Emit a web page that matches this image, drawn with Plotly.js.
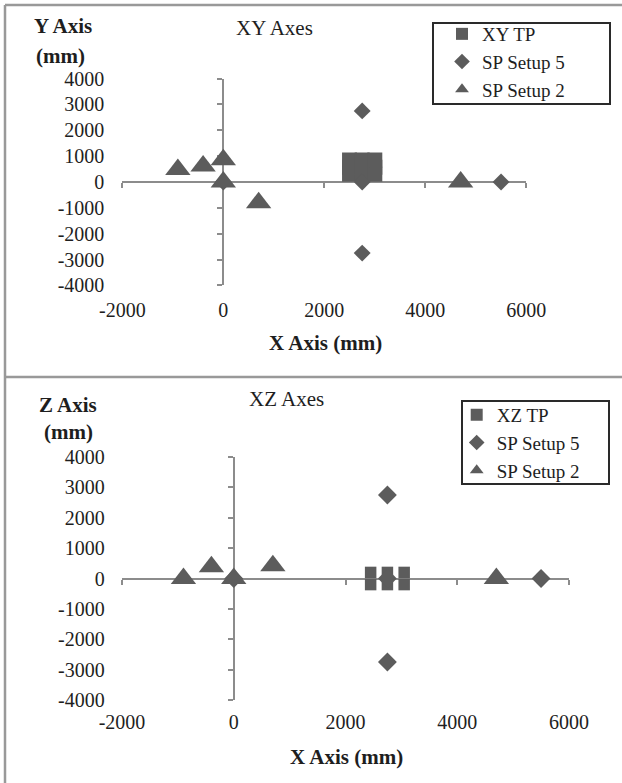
<!DOCTYPE html>
<html>
<head>
<meta charset="utf-8">
<script src="https://cdn.plot.ly/plotly-3.0.1.min.js"></script>
<style>html,body{margin:0;padding:0;background:#fff;}#chart{width:622px;height:783px;}</style>
</head>
<body>
<div id="chart"></div>
<script>
// ---- Data ----
// XY panel
const xyTP_x = [2500, 2750, 3000, 2500, 2750, 3000, 2500, 2750, 3000];
const xyTP_y = [300, 300, 300, 575, 575, 575, 850, 850, 850];
const xySP5_x = [0, 2750, 2750, 2750, 5500];
const xySP5_y = [0, 2750, 0, -2750, 0];
const xySP2_x = [-900, -400, 0, 0, 700, 4700];
const xySP2_y = [480, 620, 860, 0, -800, 0];
// XZ panel
const xzTP_x = [2450, 2750, 3050, 2450, 2750, 3050];
const xzTP_z = [200, 200, 200, -200, -200, -200];
const xzSP5_x = [0, 2750, 2750, 2750, 5500];
const xzSP5_z = [0, 2750, 0, -2750, 0];
const xzSP2_x = [-900, -400, 0, 700, 4700];
const xzSP2_z = [0, 390, 0, 420, 0];
// Ticks
const xTickVals = [-2000, 0, 2000, 4000, 6000];
const xTickText = ['-2000', '0', '2000', '4000', '6000'];
const yTickVals = [-4000, -3000, -2000, -1000, 0, 1000, 2000, 3000, 4000];
const yTickText = ['-4000', '-3000', '-2000', '-1000', '0', '1000', '2000', '3000', '4000'];
// Series names
const seriesTop = ['XY TP', 'SP Setup 5', 'SP Setup 2'];
const seriesBot = ['XZ TP', 'SP Setup 5', 'SP Setup 2'];

// ---- Styling ----
const W = 622, H = 783;
const px = v => v / W;
const py = v => 1 - v / H;
const FONT = '"Liberation Serif", "Times New Roman", serif';
const MK = '#5c5c5c';
const AX = '#8c8c8c';
const TXT = '#1e1e1e';

const traces = [
  {x: xyTP_x, y: xyTP_y, name: seriesTop[0], mode: 'markers', type: 'scatter', xaxis: 'x', yaxis: 'y', legend: 'legend',
   marker: {symbol: 'square', size: 15, color: MK}},
  {x: xySP5_x, y: xySP5_y, name: seriesTop[1], mode: 'markers', type: 'scatter', xaxis: 'x', yaxis: 'y', legend: 'legend',
   marker: {symbol: 'diamond', size: 13, color: MK}},
  {x: xySP2_x, y: xySP2_y, name: seriesTop[2], mode: 'markers', type: 'scatter', xaxis: 'x', yaxis: 'y', legend: 'legend',
   marker: {symbol: 'triangle-up', size: 22, color: MK}},
  {x: xzTP_x, y: xzTP_z, name: seriesBot[0], mode: 'markers', type: 'scatter', xaxis: 'x2', yaxis: 'y2', legend: 'legend2',
   marker: {symbol: 'square', size: 11.5, color: MK}},
  {x: xzSP5_x, y: xzSP5_z, name: seriesBot[1], mode: 'markers', type: 'scatter', xaxis: 'x2', yaxis: 'y2', legend: 'legend2',
   marker: {symbol: 'diamond', size: 14.5, color: MK}},
  {x: xzSP2_x, y: xzSP2_z, name: seriesBot[2], mode: 'markers', type: 'scatter', xaxis: 'x2', yaxis: 'y2', legend: 'legend2',
   marker: {symbol: 'triangle-up', size: 22, color: MK}}
];

function xAxis(domain, pos, standoff) {
  return {domain: domain, range: [-2000, 6000], anchor: 'free', position: pos,
    tickvals: xTickVals, ticktext: xTickText, ticks: 'outside', ticklen: 5, tickwidth: 2, tickcolor: AX,
    showline: true, linecolor: AX, linewidth: 2, showgrid: false, zeroline: false, layer: 'below traces',
    ticklabelstandoff: standoff, tickfont: {family: FONT, size: 20, color: TXT}, fixedrange: true};
}
function yAxis(domain, pos, standoff) {
  return {domain: domain, range: [-4000, 4000], anchor: 'free', position: pos,
    tickvals: yTickVals, ticktext: yTickText, ticks: 'outside', ticklen: 5, tickwidth: 2, tickcolor: AX,
    showline: true, linecolor: AX, linewidth: 2, showgrid: false, zeroline: false, layer: 'below traces',
    ticklabelstandoff: standoff, tickfont: {family: FONT, size: 20, color: TXT}, fixedrange: true};
}

// pixel geometry of each panel
const topX = [122.3, 526.3], topY = [78.6, 285.4];
const botX = [122, 569], botY = [457, 700];
const topXd = [px(topX[0]), px(topX[1])], topYd = [py(topY[1]), py(topY[0])];
const botXd = [px(botX[0]), px(botX[1])], botYd = [py(botY[1]), py(botY[0])];
const topYpos = (topYd[0] + topYd[1]) / 2, topXpos = topXd[0] + 0.25 * (topXd[1] - topXd[0]);
const botYpos = (botYd[0] + botYd[1]) / 2, botXpos = botXd[0] + 0.25 * (botXd[1] - botXd[0]);

function ann(text, x, y, size, bold) {
  return {text: bold ? '<b>' + text + '</b>' : text, x: px(x), y: py(y), xref: 'paper', yref: 'paper',
    xanchor: 'center', yanchor: 'middle', showarrow: false, font: {family: FONT, size: size, color: TXT}};
}
function line(x0, y0, x1, y1, color, w) {
  return {type: 'line', xref: 'paper', yref: 'paper', x0: px(x0), y0: py(y0), x1: px(x1), y1: py(y1),
    line: {color: color, width: w}};
}
function rect(x0, y0, x1, y1) {
  return {type: 'rect', xref: 'paper', yref: 'paper', x0: px(x0), y0: py(y0), x1: px(x1), y1: py(y1),
    line: {color: '#2a2a2a', width: 2}, fillcolor: 'rgba(0,0,0,0)'};
}

const legendBase = {xanchor: 'left', yanchor: 'top', bgcolor: 'rgba(0,0,0,0)', borderwidth: 0,
  itemsizing: 'constant', font: {family: FONT, size: 19, color: TXT}, tracegroupgap: 0};

const layout = {
  width: W, height: H, margin: {l: 0, r: 0, t: 0, b: 0},
  paper_bgcolor: '#fff', plot_bgcolor: 'rgba(0,0,0,0)',
  showlegend: true,
  xaxis: xAxis(topXd, topYpos, 105),
  yaxis: yAxis(topYd, topXpos, 109),
  xaxis2: xAxis(botXd, botYpos, 120),
  yaxis2: yAxis(botYd, botXpos, 119),
  legend: Object.assign({}, legendBase, {x: px(442), y: py(15)}),
  legend2: Object.assign({}, legendBase, {x: px(456.7), y: py(396)}),
  annotations: [
    ann('XY Axes', 274, 28, 21, false),
    ann('Y Axis', 62.5, 26.5, 21, true),
    ann('(mm)', 60.5, 56, 21, true),
    ann('X Axis (mm)', 325, 343, 21, true),
    ann('XZ Axes', 286, 399, 21, false),
    ann('Z Axis', 68, 405, 21, true),
    ann('(mm)', 68.5, 432, 21, true),
    ann('X Axis (mm)', 346, 757, 21, true)
  ],
  shapes: [
    line(5, 5, 622, 5, '#999', 2.5),
    line(5, 5, 5, 783, '#999', 2.5),
    line(5, 377, 622, 377, '#999', 2.5),
    rect(433, 23, 610, 104),
    rect(462, 401, 609, 484)
  ]
};

Plotly.newPlot('chart', traces, layout, {displayModeBar: false, staticPlot: true});
</script>
</body>
</html>
